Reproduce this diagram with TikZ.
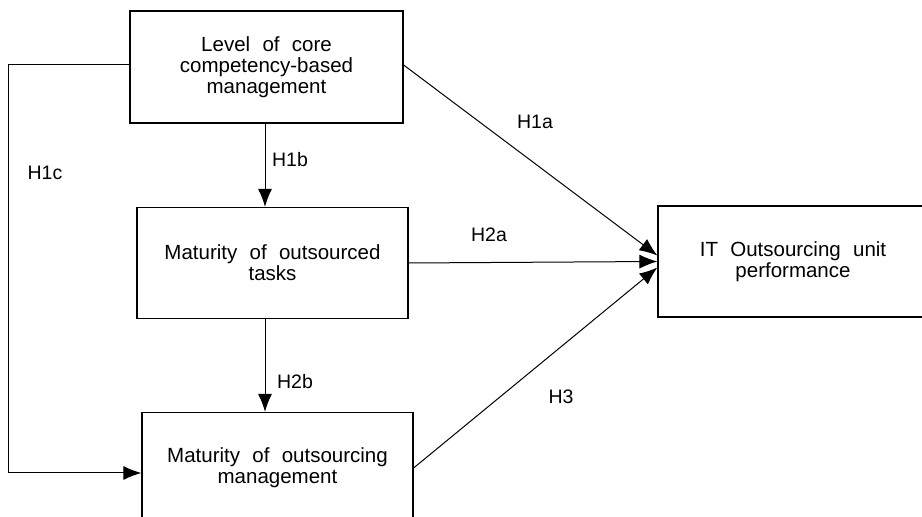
\documentclass[tikz,border=0pt]{standalone}
\usepackage{fontspec}
\setmainfont{Liberation Sans}
\usetikzlibrary{arrows.meta,calc}
\newcommand{\wsp}{\hspace{0.6em}}
\tikzset{
  hypbox/.style={draw,line width=1.2pt,align=center,inner sep=0pt,
    minimum width=271pt,minimum height=111pt,
    font=\fontsize{20.5}{21}\selectfont},
  hyplabel/.style={font=\fontsize{19.5}{23}\selectfont},
  hyparrow/.style={-{Latex[length=18pt,width=14pt]},line width=1pt},
}
\begin{document}
\begin{tikzpicture}[x=1pt,y=1pt]
\useasboundingbox (0,0) rectangle (922,517);
\node[hypbox,minimum width=273pt,minimum height=112pt] (core) at (266.5,450)
  {Level\wsp of\wsp core\\competency-based\\management};
\node[hypbox] (tasks) at (272.5,254) {Maturity\wsp of\wsp outsourced\\tasks};
\node[hypbox] (mgmt) at (277.5,49) {Maturity\wsp of\wsp outsourcing\\management};
\node[hypbox,minimum width=270pt] (perf) at (793,255.5) {IT\wsp Outsourcing\wsp unit\\performance};

\coordinate (colx) at (265,0);
\draw[hyparrow] (core.south -| colx)--(tasks.north -| colx);
\draw[hyparrow] (tasks.south -| colx)--(mgmt.north -| colx);
\draw[hyparrow] ([yshift=2pt]core.west)--++(-121,0)|-([yshift=-5pt]mgmt.west);
\draw[hyparrow] ([yshift=2pt]core.east)--([yshift=6pt]perf.west);
\draw[hyparrow] (tasks.east)--(perf.west);
\draw[hyparrow] (mgmt.east)--([yshift=-6pt]perf.west);

\node[hyplabel] (h1a) at (535,395) {H1a};
\node[hyplabel] (h1b) at (290,357) {H1b};
\node[hyplabel] (h1c) at (45,344) {H1c};
\node[hyplabel] (h2a) at (489,282) {H2a};
\node[hyplabel] (h2b) at (295,135) {H2b};
\node[hyplabel] (h3) at (561,120) {H3};

\end{tikzpicture}
\end{document}
